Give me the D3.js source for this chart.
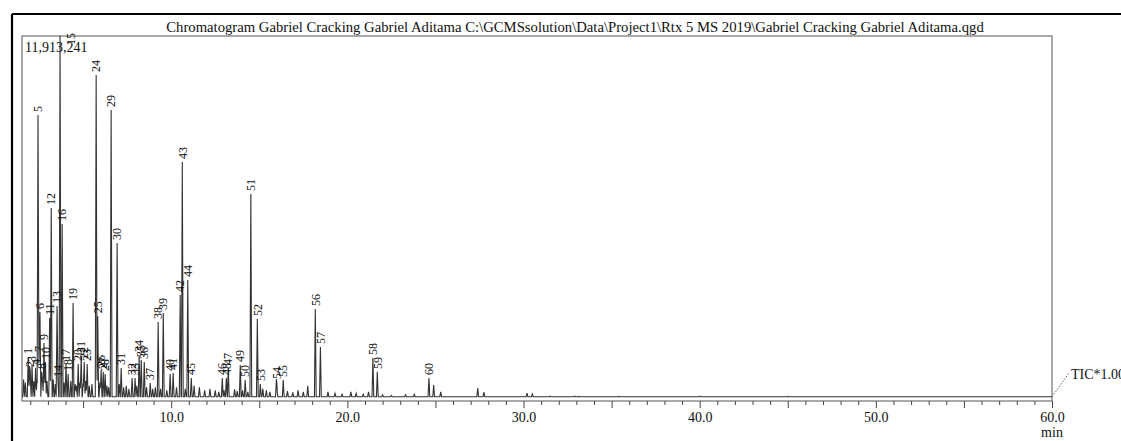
<!DOCTYPE html>
<html><head><meta charset="utf-8">
<script src="https://cdn.jsdelivr.net/npm/d3@7"></script>
<style>
body{margin:0;background:#fff}
svg{display:block}
text{font-family:"Liberation Serif","Times New Roman",serif;fill:#111}
</style>
</head><body>
<svg id="c" width="1121" height="441"></svg>
<script>
// ---------- data ----------
const titleText = "Chromatogram Gabriel Cracking Gabriel Aditama C:\\GCMSsolution\\Data\\Project1\\Rtx 5 MS 2019\\Gabriel Cracking Gabriel Aditama.qgd";
const maxIntensity = 11913241;
const baselineLevel = 140000;
const timeRange = [1.53, 60];
const traceName = "TIC*1.00";
const axisUnit = "min";

// labelled peaks: number, retention time (min), height (counts)
const peakNumbers = [1,2,3,4,5,6,7,8,9,10,11,12,13,14,15,16,17,18,19,20,21,22,23,24,25,26,27,28,29,30,31,32,33,34,35,36,37,38,39,40,41,42,43,44,45,46,47,48,49,50,51,52,53,54,55,56,57,58,59,60];
const peakTimes = [1.88,1.96,2.10,2.30,2.44,2.55,2.50,2.65,2.78,2.86,3.10,3.19,3.52,3.57,3.69,3.81,4.03,4.15,4.43,4.72,4.89,5.06,5.23,5.74,5.83,6.02,6.14,6.25,6.59,6.93,7.16,7.78,7.95,8.18,8.30,8.47,8.81,9.26,9.55,9.94,10.11,10.51,10.63,10.94,11.14,12.90,13.24,13.13,13.92,14.20,14.52,14.89,15.06,15.97,16.36,18.18,18.47,21.45,21.70,24.63];
const peakHeights = [1436000,1010000,1175000,1080000,9335000,2905000,1500000,950000,1890000,1270000,2710000,6300000,3100000,685000,11913241,5780000,1210000,880000,3200000,1210000,1470000,1270000,1210000,10640000,2770000,1010000,950000,880000,9500000,5160000,1080000,750000,750000,1500000,1340000,1270000,590000,2580000,2870000,880000,910000,3460000,7800000,3950000,750000,750000,1080000,750000,1175000,685000,6760000,2680000,555000,620000,685000,3000000,1760000,1400000,950000,750000];

// unlabelled small peaks
const minorTimes = [1.62,1.72,2.00,2.20,2.38,2.70,2.95,3.30,3.42,3.92,4.30,4.55,4.62,4.82,5.00,5.15,5.35,5.50,5.95,6.35,6.45,7.05,7.30,7.45,7.60,8.05,8.60,8.95,9.10,9.40,9.75,10.30,10.80,11.30,11.60,11.90,12.20,12.50,12.70,13.00,13.60,13.75,14.05,14.35,15.20,15.40,15.60,16.00,16.60,16.90,17.20,17.50,17.75,18.90,19.30,19.70,20.20,20.50,20.90,21.20,22.00,22.50,23.30,23.80,24.90,25.30,27.40,27.75,30.20,30.50,31.50,32.90,33.15,35.40,40.00,45.00];
const minorHeights = [700000,600000,800000,650000,700000,600000,650000,700000,550000,600000,650000,550000,500000,600000,550000,650000,500000,550000,600000,500000,450000,550000,450000,500000,400000,500000,450000,400000,450000,400000,350000,450000,400000,500000,450000,350000,400000,350000,300000,350000,380000,320000,350000,300000,400000,350000,300000,380000,320000,280000,350000,300000,500000,300000,250000,220000,300000,250000,220000,300000,200000,180000,200000,220000,520000,300000,420000,290000,260000,230000,160000,160000,150000,150000,160000,150000];

const majorTicks = [5,10,15,20,25,30,35,40,45,50,55,60];
const labelledTicks = [10,20,30,40,50,60];

// ---------- drawing ----------
const svg = d3.select("#c");
const W = 1121, H = 441;
const box = {l:22, r:1052, t:36, b:401};

const x = d3.scaleLinear().domain(timeRange).range([box.l, box.r]);
const y = d3.scaleLinear().domain([0, maxIntensity]).range([box.b, box.t]);

// outer frame
svg.append("line").attr("x1",12).attr("x2",W).attr("y1",14).attr("y2",14).attr("stroke","#000").attr("stroke-width",2.2);
svg.append("line").attr("x1",12).attr("x2",12).attr("y1",14).attr("y2",H).attr("stroke","#000").attr("stroke-width",2.2);

// title
svg.append("text").attr("x",575).attr("y",32).attr("text-anchor","middle").attr("font-size",14.7).text(titleText);

// plot box
svg.append("rect").attr("x",box.l).attr("y",box.t).attr("width",box.r-box.l).attr("height",box.b-box.t)
  .attr("fill","none").attr("stroke","#555").attr("stroke-width",1);

// axis ticks
const allTicks = d3.range(2, 61, 1);
const axisG = svg.append("g").attr("transform",`translate(0,${box.b})`);
const ax = d3.axisBottom(x).tickValues(allTicks).tickSizeOuter(0)
  .tickSize(4).tickFormat("");
axisG.call(ax);
axisG.attr("font-family",null);
axisG.select(".domain").remove();
axisG.selectAll(".tick line").attr("stroke","#444")
  .attr("y2", d => majorTicks.includes(d) ? 7 : 4);
axisG.selectAll(".tick").filter(d => labelledTicks.includes(d)).append("text")
  .attr("y",21).attr("text-anchor","middle").attr("font-size",14).attr("fill","#111")
  .text(d => d3.format(".1f")(d));
svg.append("text").attr("x",box.r).attr("y",437).attr("text-anchor","middle").attr("font-size",14).text(axisUnit);

// build trace: sum of narrow triangular peaks above baseline
const halfW = 0.05;
const allPeaks = peakTimes.map((t,i)=>({t, h:peakHeights[i]}))
  .concat(minorTimes.map((t,i)=>({t, h:minorHeights[i]})));
const bp = new Set([timeRange[0], timeRange[1]]);
allPeaks.forEach(p => { bp.add(p.t-halfW); bp.add(p.t); bp.add(p.t+halfW); });
const pts = Array.from(bp).filter(t => t>=timeRange[0] && t<=timeRange[1]).sort((a,b)=>a-b)
  .map(t => {
    let v = baselineLevel;
    allPeaks.forEach(p => {
      const d = Math.abs(t-p.t);
      if (d < halfW) v += (p.h - baselineLevel) * (1 - d/halfW);
    });
    return [t, Math.min(v, maxIntensity)];
  });
svg.append("clipPath").attr("id","clip").append("rect")
  .attr("x",box.l).attr("y",box.t).attr("width",box.r-box.l).attr("height",box.b-box.t);
svg.append("path").datum(pts).attr("clip-path","url(#clip)")
  .attr("fill","none").attr("stroke","#333").attr("stroke-width",1.1)
  .attr("d", d3.line().x(d=>x(d[0])).y(d=>y(d[1])));

// peak labels
const lab = svg.append("g");
peakNumbers.forEach((n,i) => {
  const px = x(peakTimes[i]);
  let py = y(peakHeights[i]) - 3;
  let ox = px;
  if (peakHeights[i] >= maxIntensity) { py = box.t + 9; ox = px + 11; }
  lab.append("text")
    .attr("transform",`translate(${ox},${py}) rotate(-90)`)
    .attr("text-anchor","start").attr("dy","0.35em")
    .attr("font-size",12).attr("fill","#222").text(n);
});

// max intensity label
svg.append("text").attr("x",25).attr("y",52).attr("font-size",14).text(d3.format(",")(maxIntensity));

// TIC annotation
svg.append("line").attr("x1",box.r).attr("y1",y(baselineLevel)).attr("x2",1069).attr("y2",373)
  .attr("stroke","#666").attr("stroke-dasharray","1.5,1.5").attr("stroke-width",1);
svg.append("text").attr("x",1071).attr("y",379).attr("font-size",14).text(traceName);
</script>
</body></html>
